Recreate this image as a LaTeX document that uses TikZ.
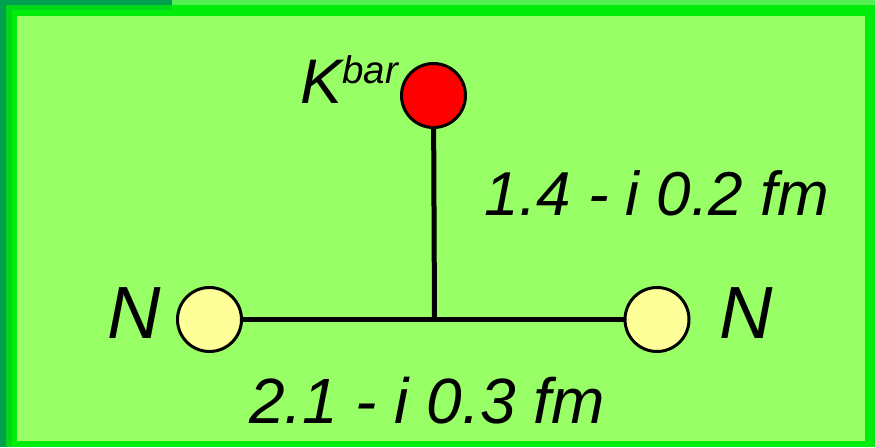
\documentclass[tikz,border=0pt]{standalone}
\usepackage{fontspec}
\setmainfont{Liberation Sans}
\definecolor{frameA}{RGB}{0,160,80}
\definecolor{frameB}{RGB}{0,215,25}
\definecolor{frameC}{RGB}{0,236,10}
\definecolor{frameD}{RGB}{85,238,85}
\definecolor{panel}{RGB}{153,255,102}
\definecolor{nucleon}{RGB}{255,255,153}
\newcommand{\lblfont}[1]{\fontsize{#1pt}{#1pt}\selectfont\itshape}

\begin{document}
\begin{tikzpicture}[x=1pt,y=-1pt,line width=5pt,
  every node/.style={inner sep=0pt,outer sep=0pt},
  ball/.style={circle,draw=black,line width=3pt,minimum size=64pt}]
  \path[use as bounding box] (0,0) rectangle (875,447);  % canvas 875x447px
  % ---- frame: layered green strips, then the panel ----
  \fill[frameC] (0,0) rectangle (875,447);
  \fill[frameA] (0,0) rectangle (6,447);
  \fill[frameA] (0,0) rectangle (172,5);
  \fill[frameD] (172,0) rectangle (875,5);
  \fill[frameB] (6,5) rectangle (12,447);
  \fill[frameB] (6,5) rectangle (172,10);
  \fill[panel] (17,16) rectangle (865,441);
  % ---- particles ----
  \node[ball,fill=red]     (kbar) at (433.5, 95.5) {};
  \node[ball,fill=nucleon] (nl)   at (209.5,319.5) {};
  \node[ball,fill=nucleon] (nr)   at (657.0,319.5) {};
  \coordinate (mid) at (434.5,319.5);
  % ---- bonds ----
  \draw (kbar) -- (mid);
  \draw (nl) -- (nr);
  % ---- labels: anchor=base, x = ink centre ----
  \node[anchor=base,font=\lblfont{63}] (lk) at (349,103)
    {K\raisebox{20pt}{\lblfont{38.5}bar}};
  \node[anchor=base,font=\lblfont{74}] (ln1) at (134,338) {N};
  \node[anchor=base,font=\lblfont{74}] (ln2) at (746,338) {N};
  \node[anchor=base,font=\lblfont{62}] (lkn) at (657,215) {1.4 - i 0.2 fm};
  \node[anchor=base,font=\lblfont{64}] (lnn) at (427,423) {2.1 - i 0.3 fm};
\end{tikzpicture}
\end{document}
